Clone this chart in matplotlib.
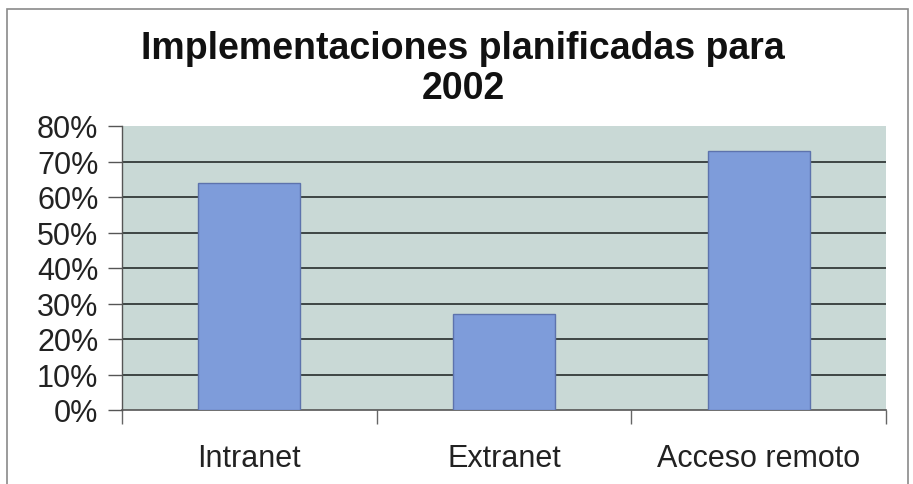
import matplotlib
matplotlib.use("Agg")
import matplotlib.pyplot as plt
from matplotlib.patches import Rectangle
from matplotlib.ticker import FixedLocator

categories = ["Intranet", "Extranet", "Acceso remoto"]
values = [0.64, 0.27, 0.73]
yticks = [0.0, 0.1, 0.2, 0.3, 0.4, 0.5, 0.6, 0.7, 0.8]
ytick_labels = ["0%", "10%", "20%", "30%", "40%", "50%", "60%", "70%", "80%"]
title = "Implementaciones planificadas para\n2002"

plt.rcParams['font.family'] = ['Liberation Sans', 'DejaVu Sans']

fig = plt.figure(figsize=(9.13, 4.85), dpi=100)
fig.patch.set_facecolor("white")

# outer chart frame
fig.patches.append(Rectangle((7/913, -0.01), (908-7)/913, 1 - 10/485 + 0.01,
                             transform=fig.transFigure, fill=False,
                             edgecolor="#8a8a8a", linewidth=1.2))

ax = fig.add_axes([122/913, 1 - 411/485, (886-122)/913, (411-127)/485])
ax.set_facecolor("#c9d9d6")

x = list(range(len(categories)))
ax.bar(x, values, width=0.4, color="#7e9cda", edgecolor="#5d73ad", linewidth=1.0, zorder=3)

ax.set_xlim(-0.5, len(categories) - 0.5)
ax.set_ylim(0, 0.8)

ax.set_yticks(yticks)
ax.set_yticklabels(ytick_labels, fontsize=22, color="#222222")
ax.tick_params(axis="y", length=10, width=1.0, color="#555555", pad=7)

# gridlines
for t in yticks[1:-1]:
    ax.axhline(t, color="#333a39", linewidth=1.3, zorder=1)

# x ticks at boundaries, labels at centers
ax.xaxis.set_major_locator(FixedLocator([-0.5, 0.5, 1.5, 2.5]))
ax.set_xticklabels([])
ax.tick_params(axis="x", which="major", length=10, width=1.0, color="#666666")
ax.xaxis.set_minor_locator(FixedLocator(x))
ax.set_xticklabels(categories, minor=True, fontsize=22, color="#222222")
ax.tick_params(axis="x", which="minor", length=0, pad=24)

for side in ["top", "right"]:
    ax.spines[side].set_visible(False)
ax.spines["left"].set_color("#555555")
ax.spines["bottom"].set_color("#555555")
ax.spines["left"].set_linewidth(1.0)
ax.spines["bottom"].set_linewidth(1.2)

fig.text(463/913, 1 - 69/485, title, ha="center", va="center",
         fontsize=27, fontweight="bold", color="#111111", linespacing=1.12)

fig.savefig("out.png", dpi=100)
